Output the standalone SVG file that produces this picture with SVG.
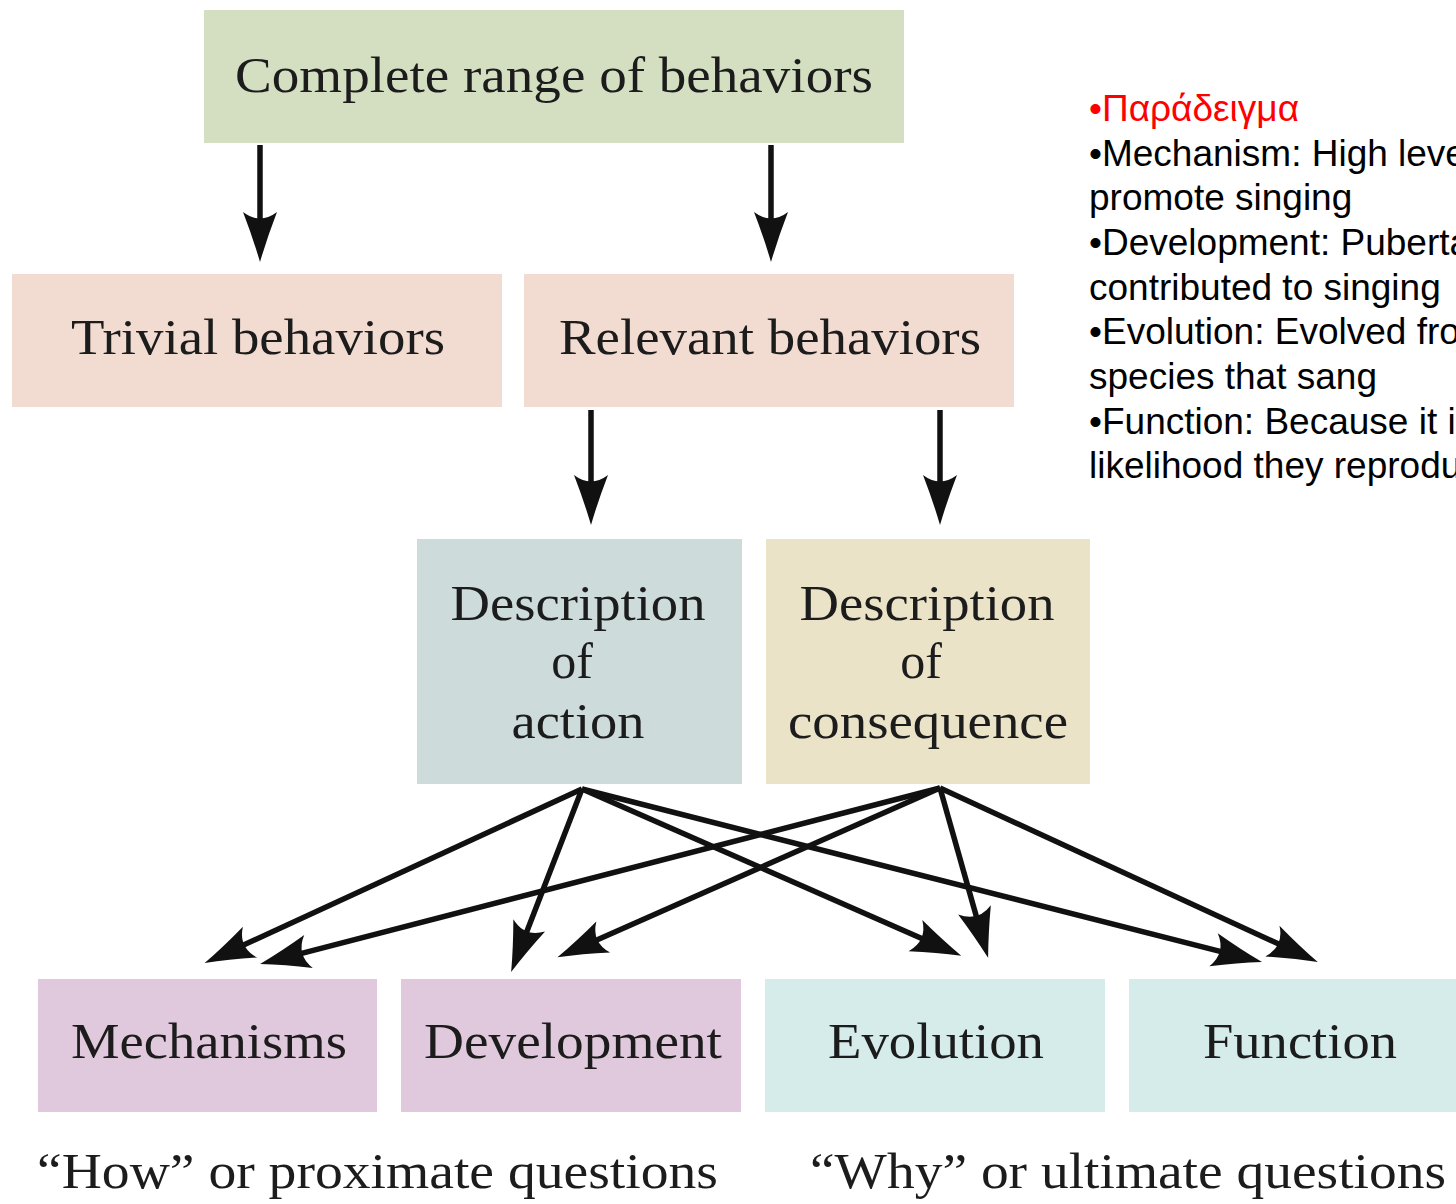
<svg xmlns="http://www.w3.org/2000/svg" width="1456" height="1204" viewBox="0 0 1456 1204">
<defs>
<style>
.lbl{font-family:"Liberation Serif","Times New Roman",serif;font-size:50px;fill:#1c1c1c;text-anchor:middle}
.cap{font-family:"Liberation Serif","Times New Roman",serif;font-size:50px;fill:#1c1c1c}
.note{font-family:"Liberation Sans",Arial,sans-serif;font-size:37px;fill:#000}
.red{fill:#ff0000}
.ln{stroke:#111;stroke-width:5.5;fill:none}
</style>
<marker id="ah" viewBox="-60 -20 65 40" markerWidth="65" markerHeight="40" refX="-22" refY="0" orient="auto" markerUnits="userSpaceOnUse">
<path d="M0,0 Q-24,-7 -50,-17 Q-37,0 -50,17 Q-24,7 0,0 Z" fill="#111"/>
</marker>
</defs>
<rect width="1456" height="1204" fill="#fff"/>

<g id="n-complete"><rect x="204" y="10" width="700" height="133" fill="#d4dfc2"/><text class="lbl" x="554" y="92" textLength="638" lengthAdjust="spacingAndGlyphs">Complete range of behaviors</text></g>
<g id="n-trivial"><rect x="12" y="274" width="490" height="133" fill="#f2dcd2"/><text class="lbl" x="258" y="354" textLength="374" lengthAdjust="spacingAndGlyphs">Trivial behaviors</text></g>
<g id="n-relevant"><rect x="524" y="274" width="490" height="133" fill="#f2dcd2"/><text class="lbl" x="770" y="354" textLength="422" lengthAdjust="spacingAndGlyphs">Relevant behaviors</text></g>
<g id="n-action"><rect x="417" y="539" width="325" height="245" fill="#cddcdb"/>
<text class="lbl" x="578" y="620" textLength="255" lengthAdjust="spacingAndGlyphs">Description</text>
<text class="lbl" x="572" y="678">of</text>
<text class="lbl" x="578" y="738" textLength="133" lengthAdjust="spacingAndGlyphs">action</text></g>
<g id="n-consequence"><rect x="766" y="539" width="324" height="245" fill="#eae3c8"/>
<text class="lbl" x="927" y="620" textLength="255" lengthAdjust="spacingAndGlyphs">Description</text>
<text class="lbl" x="921" y="678">of</text>
<text class="lbl" x="928" y="738" textLength="280" lengthAdjust="spacingAndGlyphs">consequence</text></g>
<g id="n-mechanisms"><rect x="38" y="979" width="339" height="133" fill="#e0c9dc"/><text class="lbl" x="209" y="1058" textLength="276" lengthAdjust="spacingAndGlyphs">Mechanisms</text></g>
<g id="n-development"><rect x="401" y="979" width="340" height="133" fill="#e0c9dc"/><text class="lbl" x="573" y="1058" textLength="298" lengthAdjust="spacingAndGlyphs">Development</text></g>
<g id="n-evolution"><rect x="765" y="979" width="340" height="133" fill="#d5ecea"/><text class="lbl" x="936" y="1058" textLength="216" lengthAdjust="spacingAndGlyphs">Evolution</text></g>
<g id="n-function"><rect x="1129" y="979" width="327" height="133" fill="#d5ecea"/><text class="lbl" x="1300" y="1058" textLength="194" lengthAdjust="spacingAndGlyphs">Function</text></g>

<g id="captions">
<text class="cap" x="37" y="1188" textLength="681" lengthAdjust="spacingAndGlyphs">“How” or proximate questions</text>
<text class="cap" x="810" y="1188" textLength="636" lengthAdjust="spacingAndGlyphs">“Why” or ultimate questions</text>
</g>

<g id="notes" class="note">
<text x="1089" y="121" class="red">•Παράδειγμα</text>
<text x="1089" y="166">•Mechanism: High leve</text>
<text x="1089" y="210">promote singing</text>
<text x="1089" y="255">•Development: Puberta</text>
<text x="1089" y="300">contributed to singing</text>
<text x="1089" y="344">•Evolution: Evolved fro</text>
<text x="1089" y="389">species that sang</text>
<text x="1089" y="434">•Function: Because it i</text>
<text x="1089" y="478">likelihood they reprodu</text>
</g>

<g id="connectors" class="ln" marker-end="url(#ah)">
<line x1="260" y1="145" x2="260" y2="240"/>
<line x1="771" y1="145" x2="771" y2="240"/>
<line x1="591" y1="410" x2="591" y2="503"/>
<line x1="940" y1="410" x2="940" y2="503"/>
<path d="M582,789 L224.6,953.8"/>
<path d="M582,789 L519.1,951.4"/>
<path d="M582,789 L941.1,946.9"/>
<path d="M582,789 L1240.7,956.6"/>
<path d="M940,788 L281.4,958.6"/>
<path d="M940,788 L577.6,948.4"/>
<path d="M940,788 L982.1,936.7"/>
<path d="M940,788 L1297.8,952.8"/>
</g>
</svg>
